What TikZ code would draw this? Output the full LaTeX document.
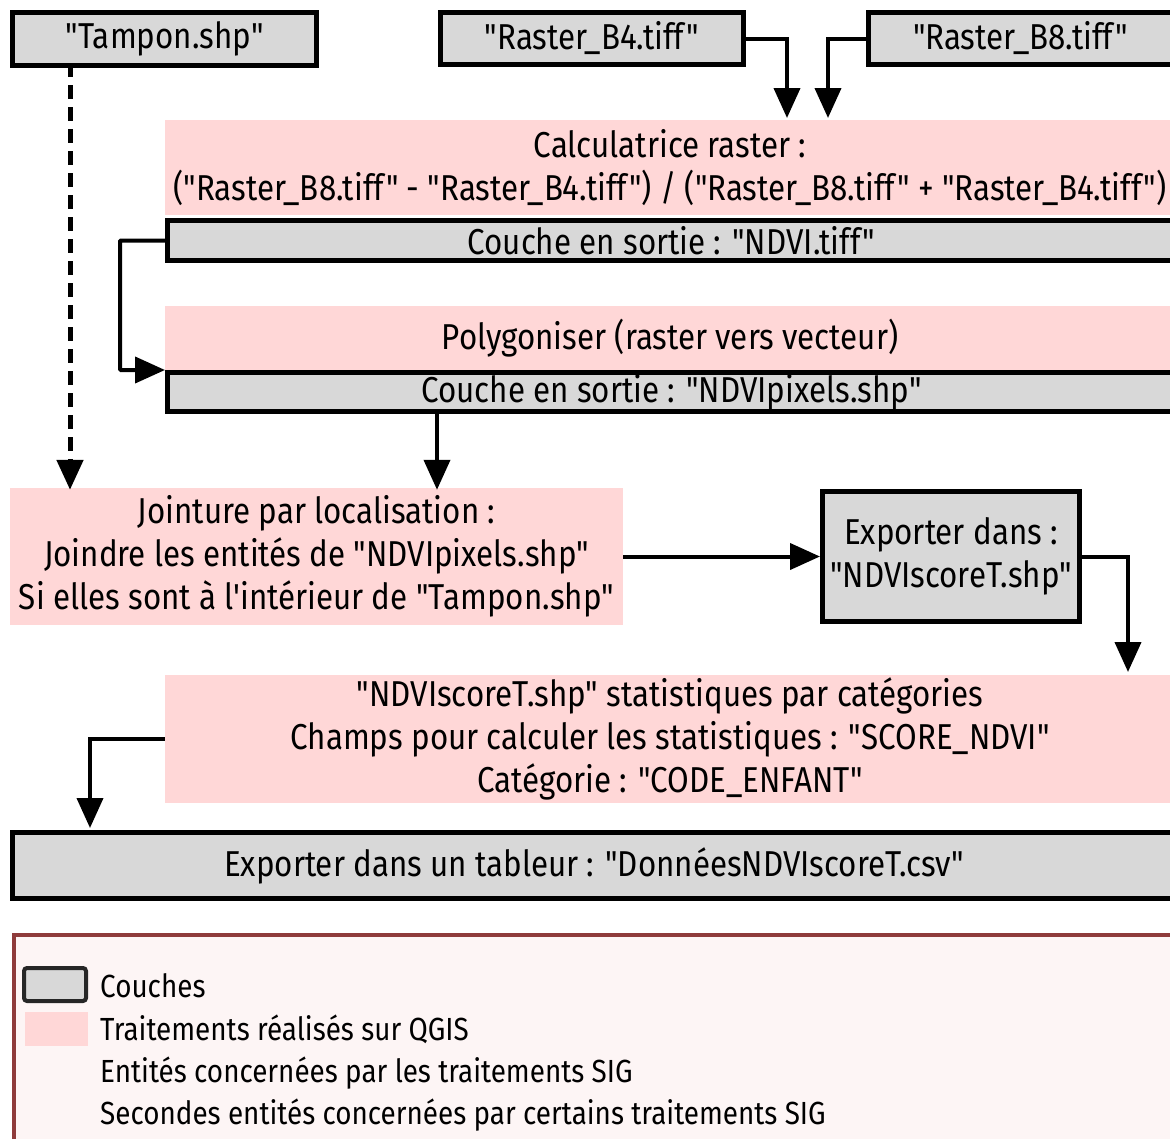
\documentclass[tikz,border=0pt]{standalone}
\usepackage{fontspec}
\setmainfont{Fira Sans}[FakeStretch=0.87, Ligatures=TeXOff]
\usetikzlibrary{arrows.meta}
\newcommand\myq{\symbol{34}}
\newcommand\myap{\symbol{39}}
\definecolor{gfill}{HTML}{D8D8D8}
\definecolor{pfill}{HTML}{FFD7D7}
\definecolor{lgborder}{HTML}{8F3B3B}
\definecolor{lgfill}{HTML}{FDF5F5}
\tikzset{
  every node/.style={font=\fontsize{36}{43}\selectfont, align=center, inner sep=0},
  gbox/.style={draw=black, line width=5pt, fill=gfill},
  pbox/.style={fill=pfill},
  lgtext/.style={anchor=west, font=\fontsize{32}{40}\selectfont},
  arr/.style={line width=4pt, -{Triangle[length=30pt,width=26pt]}},
  darr/.style={line width=5pt, dash pattern=on 14pt off 8pt, -{Triangle[length=30pt,width=26pt]}},
}
\begin{document}
\begin{tikzpicture}[x=1pt,y=-1pt]
\clip (0,0) rectangle (1170,1138);
\useasboundingbox (0,0) rectangle (1170,1138);
\fill[white] (0,0) rectangle (1170,1138);
% top layers
\node[gbox, minimum width=304pt, minimum height=53pt] (tampon) at (164.5,39) {\myq Tampon.shp\myq};
\node[gbox, minimum width=303pt, minimum height=52pt] (b4) at (592,38.5) {\myq Raster\_B4.tiff\myq};
\node[gbox, minimum width=304pt, minimum height=52pt] (b8) at (1020.5,38.5) {\myq Raster\_B8.tiff\myq};
% calculatrice
\node[pbox, minimum width=1010pt, minimum height=95pt] (calc) at (670,167.5) {Calculatrice raster :\\(\myq Raster\_B8.tiff\myq{} - \myq Raster\_B4.tiff\myq) / (\myq Raster\_B8.tiff\myq{} + \myq Raster\_B4.tiff\myq)};
\node[gbox, minimum width=1008pt, minimum height=40pt] (ndvi) at (671.5,240.5) {Couche en sortie : \myq NDVI.tiff\myq};
% polygoniser
\node[pbox, minimum width=1010pt, minimum height=64pt] (poly) at (670,338) {Polygoniser (raster vers vecteur)};
\node[gbox, minimum width=1008pt, minimum height=39pt] (pix) at (671.5,392) {Couche en sortie : \myq NDVIpixels.shp\myq};
% jointure
\node[pbox, minimum width=613pt, minimum height=137pt] (join) at (316.5,556.5) {Jointure par localisation :\\Joindre les entités de \myq NDVIpixels.shp\myq\\Si elles sont à l\myap intérieur de \myq Tampon.shp\myq};
\node[gbox, minimum width=257pt, minimum height=130pt] (exp) at (951,556.5) {Exporter dans :\\\myq NDVIscoreT.shp\myq};
% stats
\node[pbox, minimum width=1010pt, minimum height=128pt] (stats) at (670,739) {\myq NDVIscoreT.shp\myq{} statistiques par catégories\\Champs pour calculer les statistiques : \myq SCORE\_NDVI\myq\\Catégorie : \myq CODE\_ENFANT\myq};
\node[gbox, minimum width=1163pt, minimum height=66pt] (tab) at (594,865.5) {Exporter dans un tableur : \myq DonnéesNDVIscoreT.csv\myq};
% helper coordinates
\coordinate (xb4) at (787,118);
\coordinate (xb8) at (828,118);
\coordinate (xloop) at (120,0);
\coordinate (polytip) at (165,370);
\coordinate (xpix) at (437,0);
\coordinate (xtam) at (70,0);
\coordinate (xexp) at (1128,672);
\coordinate (xst) at (90,828);
% connectors
\draw[arr] (b4.east) -| (xb4);
\draw[arr] (b8.west) -| (xb8);
\draw[arr, rounded corners=1pt] (ndvi.west) -| (xloop |- polytip) -- (polytip);
\draw[arr] (pix.south -| xpix) -- ([yshift=-2pt]join.north -| xpix);
\draw[darr] ([yshift=5pt]tampon.south -| xtam) -- ([yshift=-2pt]join.north -| xtam);
\draw[arr] (join.east) -- (exp.west);
\draw[arr] (exp.east) -| (xexp);
\draw[arr] (stats.west) -| (xst);
% legend
\node[draw=lgborder, line width=4pt, fill=lgfill, minimum width=1166pt, minimum height=216pt] (legend) at (597,1043) {};
\node[draw=black!85, line width=4pt, fill=gfill, rounded corners=3pt, minimum width=62pt, minimum height=33pt] (lg1) at (55,984.5) {};
\node[pbox, minimum width=63pt, minimum height=34pt] (lg2) at (56.5,1029) {};
\node[lgtext] (lt1) at (100,986) {Couches};
\node[lgtext] (lt2) at (100,1029) {Traitements réalisés sur QGIS};
\node[lgtext] (lt3) at (100,1073) {Entités concernées par les traitements SIG};
\node[lgtext] (lt4) at (100,1115) {Secondes entités concernées par certains traitements SIG};
\end{tikzpicture}
\end{document}
